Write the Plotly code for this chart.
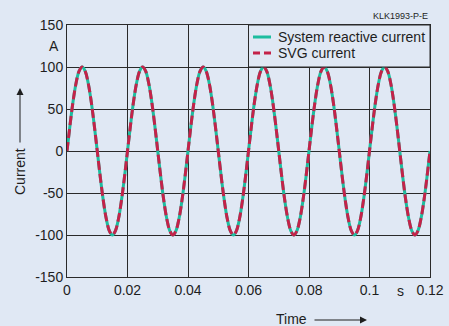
import plotly.graph_objects as go

# sample times (s), read every 1 ms
time_s = [round(i * 0.001, 3) for i in range(121)]

# values (A)
system_reactive_current = [
    0, 31, 59, 81, 95, 100, 95, 81, 59, 31, 0, -31, -59, -81, -95, -100, -95, -81, -59, -31,
    0, 31, 59, 81, 95, 100, 95, 81, 59, 31, 0, -31, -59, -81, -95, -100, -95, -81, -59, -31,
    0, 31, 59, 81, 95, 100, 95, 81, 59, 31, 0, -31, -59, -81, -95, -100, -95, -81, -59, -31,
    0, 31, 59, 81, 95, 100, 95, 81, 59, 31, 0, -31, -59, -81, -95, -100, -95, -81, -59, -31,
    0, 31, 59, 81, 95, 100, 95, 81, 59, 31, 0, -31, -59, -81, -95, -100, -95, -81, -59, -31,
    0, 31, 59, 81, 95, 100, 95, 81, 59, 31, 0, -31, -59, -81, -95, -100, -95, -81, -59, -31,
    0,
]
svg_current = [
    0, 31, 59, 81, 95, 100, 95, 81, 59, 31, 0, -31, -59, -81, -95, -100, -95, -81, -59, -31,
    0, 31, 59, 81, 95, 100, 95, 81, 59, 31, 0, -31, -59, -81, -95, -100, -95, -81, -59, -31,
    0, 31, 59, 81, 95, 100, 95, 81, 59, 31, 0, -31, -59, -81, -95, -100, -95, -81, -59, -31,
    0, 31, 59, 81, 95, 100, 95, 81, 59, 31, 0, -31, -59, -81, -95, -100, -95, -81, -59, -31,
    0, 31, 59, 81, 95, 100, 95, 81, 59, 31, 0, -31, -59, -81, -95, -100, -95, -81, -59, -31,
    0, 31, 59, 81, 95, 100, 95, 81, 59, 31, 0, -31, -59, -81, -95, -100, -95, -81, -59, -31,
    0,
]

series_names = ["System reactive current", "SVG current"]
x_ticks = [0, 0.02, 0.04, 0.06, 0.08, 0.1, 0.12]
x_tick_labels = ["0", "0.02", "0.04", "0.06", "0.08", "0.1", "0.12"]
y_ticks = [-150, -100, -50, 0, 50, 100, 150]
y_tick_labels = ["-150", "-100", "-50", "0", "50", "100", "150"]

BG = "#e0e8f4"
GRID = "#2a2a2a"
TEXT = "#1e1e1e"
TEAL = "#1dbd9f"
RED = "#c42249"
FONT = "Liberation Sans, Arial, sans-serif"
DASH = "9px,4px"

W, H = 449, 326
L, R, T, B = 67, 19, 25, 49
pw, ph = W - L - R, H - T - B
def px(x):
    return (x - L) / pw
def py(y):
    return (H - B - y) / ph

fig = go.Figure()
fig.add_trace(go.Scatter(
    x=time_s, y=system_reactive_current, mode="lines", name=series_names[0],
    line=dict(color=TEAL, width=3, shape="spline"), showlegend=False,
))
fig.add_trace(go.Scatter(
    x=time_s, y=svg_current, mode="lines", name=series_names[1],
    line=dict(color=RED, width=3, shape="spline", dash=DASH), showlegend=False,
))

# legend box covering the top-right grid cells
fig.add_shape(type="rect", xref="x", yref="y", x0=0.06, x1=0.12, y0=100, y1=150,
              fillcolor=BG, line=dict(color=GRID, width=1), layer="above")
# legend samples
fig.add_shape(type="line", xref="paper", yref="paper", x0=px(253), x1=px(271),
              y0=py(37), y1=py(37), line=dict(color=TEAL, width=3), layer="above")
fig.add_shape(type="line", xref="paper", yref="paper", x0=px(253), x1=px(271),
              y0=py(53), y1=py(53), line=dict(color=RED, width=3, dash="7px,4px"), layer="above")
fig.add_annotation(text=series_names[0], x=px(276), y=py(37), xref="paper", yref="paper",
                   xanchor="left", yanchor="middle", showarrow=False,
                   font=dict(size=14, color=TEXT))
fig.add_annotation(text=series_names[1], x=px(276), y=py(53), xref="paper", yref="paper",
                   xanchor="left", yanchor="middle", showarrow=False,
                   font=dict(size=14, color=TEXT))

fig.update_layout(
    width=W, height=H,
    margin=dict(l=L, r=R, t=T, b=B, autoexpand=False),
    paper_bgcolor=BG, plot_bgcolor=BG,
    font=dict(family=FONT, size=14, color=TEXT),
    showlegend=False,
    xaxis=dict(range=[0, 0.12], tickvals=x_ticks, ticktext=x_tick_labels,
               showgrid=True, gridcolor=GRID, gridwidth=1,
               showline=True, linecolor=GRID, linewidth=1, mirror=True,
               zeroline=False, ticks="", tickfont=dict(size=14, color=TEXT)),
    yaxis=dict(range=[-150, 150], tickvals=y_ticks, ticktext=y_tick_labels,
               showgrid=True, gridcolor=GRID, gridwidth=1,
               showline=True, linecolor=GRID, linewidth=1, mirror=True,
               zeroline=False, ticks="", tickfont=dict(size=14, color=TEXT)),
)

fig.add_annotation(text="A", x=px(61), y=py(46), xref="paper", yref="paper",
                   xanchor="right", yanchor="middle",
                   showarrow=False, font=dict(size=14, color=TEXT))
fig.add_annotation(text="s", x=px(400), y=py(291), xref="paper", yref="paper",
                   xanchor="center", yanchor="middle",
                   showarrow=False, font=dict(size=14, color=TEXT))
fig.add_annotation(text="KLK1993-P-E", x=px(430), y=py(16), xref="paper", yref="paper",
                   xanchor="right", yanchor="middle",
                   showarrow=False, font=dict(size=9, color=TEXT))
fig.add_annotation(text="Current", x=px(20), y=py(172), xref="paper", yref="paper", textangle=-90,
                   xanchor="center", yanchor="middle",
                   showarrow=False, font=dict(size=14, color=TEXT))
fig.add_annotation(text="Time", x=px(309), y=py(319), xref="paper", yref="paper",
                   xanchor="right", yanchor="middle",
                   showarrow=False, font=dict(size=14, color=TEXT))

# arrows (up for Current, right for Time)
fig.add_annotation(x=px(20), y=py(88), ax=0, ay=56, xref="paper", yref="paper",
                   axref="pixel", ayref="pixel", text="", showarrow=True,
                   arrowhead=2, arrowsize=1.4, arrowwidth=1, arrowcolor=TEXT)
fig.add_annotation(x=px(367), y=py(320), ax=-54, ay=0, xref="paper", yref="paper",
                   axref="pixel", ayref="pixel", text="", showarrow=True,
                   arrowhead=2, arrowsize=1.4, arrowwidth=1, arrowcolor=TEXT)

fig.write_html("out.html", config={"displayModeBar": False},
               post_script="document.body.style.margin='0';document.body.style.overflow='hidden';")
